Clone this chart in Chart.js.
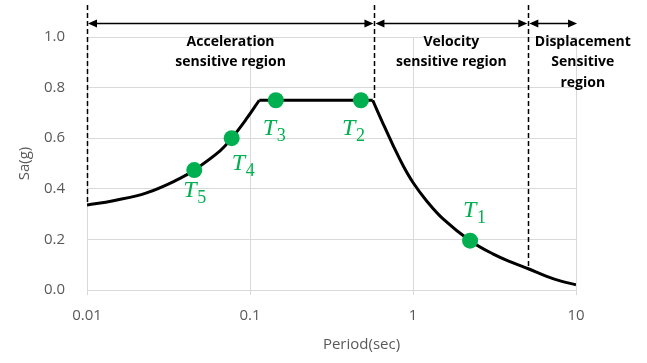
<!DOCTYPE html>
<html><head><meta charset="utf-8">
<script src="https://cdn.jsdelivr.net/npm/chart.js@4"></script>
<style>html,body{margin:0;padding:0;background:#fff}#wrap{width:647px;height:363px;position:relative}</style>
</head><body><div id="wrap"><canvas id="c"></canvas></div>
<script>
// Design response spectrum: period (sec) against spectral acceleration Sa (g)
const risePeriod = [0.01, 0.0145, 0.0232, 0.0372, 0.0455, 0.0655, 0.0772, 0.095, 0.114];
const riseSa     = [0.336, 0.353, 0.384, 0.441, 0.474, 0.550, 0.600, 0.676, 0.75];
const plateauPeriod = [0.114, 0.566];
const plateauSa     = [0.75, 0.75];
const fallPeriod = [0.566, 0.658, 0.757, 0.872, 1.0, 1.213, 1.535, 2.24, 3.11, 4.12, 5.1, 6.61, 8.0, 10];
const fallSa     = [0.75, 0.655, 0.570, 0.490, 0.425, 0.352, 0.280, 0.195, 0.142, 0.107, 0.084, 0.054, 0.036, 0.021];

// Modal periods T1..T5 marked on the spectrum
const markerIndex  = ['1', '2', '3', '4', '5'];
const markerPeriod = [2.24, 0.479, 0.144, 0.0772, 0.0455];
const markerSa     = [0.195, 0.75, 0.75, 0.600, 0.474];

// Spectral regions: divider periods and where each divider meets the spectrum
const regionBounds  = [0.01, 0.58, 5.1, 10.3];
const dividerSa     = [0.336, 0.75, 0.084];
const regionNames   = [['Acceleration', 'sensitive region'], ['Velocity', 'sensitive region'], ['Displacement', 'Sensitive', 'region']];
const regionLabelAt = [0.076, 1.72, 11.0];

// Axis ticks
const periodTicks = [0.01, 0.1, 1, 10];
const saTicks     = [0, 0.2, 0.4, 0.6, 0.8, 1.0];

const toXY = (xs, ys) => xs.map((v, i) => ({x: v, y: ys[i]}));

const GREEN = '#00B050';
const GREY = '#595959';
const GRID = '#d9d9d9';
const annot = {
  arrowSa: 1.057,      // height of the region arrows
  dividerTopSa: 1.126, // top of the dashed dividers
  // label offsets from the marker centre (px): T left edge, T baseline
  labelOffset: [[-7, -24], [-19, 35], [-13, 35], [0, 32], [-11, 27]]
};

const regionPlugin = {
  id: 'regions',
  beforeDatasetsDraw(chart) {
    const {ctx, scales: {x, y}} = chart;
    ctx.save();
    ctx.strokeStyle = '#000';
    ctx.lineWidth = 1.5;
    ctx.setLineDash([5, 3]);
    const top = y.getPixelForValue(annot.dividerTopSa);
    for (let i = 0; i < 3; i++) {
      const px = Math.round(x.getPixelForValue(regionBounds[i])) + 0.5;
      ctx.beginPath();
      ctx.moveTo(px, top);
      ctx.lineTo(px, y.getPixelForValue(dividerSa[i]));
      ctx.stroke();
    }
    ctx.restore();
  },
  afterDatasetsDraw(chart) {
    const {ctx, scales: {x, y}} = chart;
    ctx.save();
    // double-headed arrows spanning each region
    const ay = Math.round(y.getPixelForValue(annot.arrowSa)) + 0.5;
    const head = (tx, dir) => {
      ctx.beginPath();
      ctx.moveTo(tx, ay);
      ctx.lineTo(tx + dir * 9, ay - 4);
      ctx.lineTo(tx + dir * 9, ay + 4);
      ctx.closePath();
      ctx.fill();
    };
    ctx.fillStyle = '#000';
    ctx.strokeStyle = '#000';
    ctx.lineWidth = 1.3;
    for (let i = 0; i < 3; i++) {
      const a = x.getPixelForValue(regionBounds[i]) + 1;
      const b = x.getPixelForValue(regionBounds[i + 1]) - 1;
      ctx.beginPath();
      ctx.moveTo(a + 4, ay);
      ctx.lineTo(b - 4, ay);
      ctx.stroke();
      head(a, 1);
      head(b, -1);
    }
    // region names
    ctx.font = 'bold 14px "Open Sans"';
    ctx.textAlign = 'center';
    ctx.textBaseline = 'middle';
    ctx.fillStyle = '#000';
    regionNames.forEach((lines, i) => {
      const cx = x.getPixelForValue(regionLabelAt[i]);
      lines.forEach((t, k) => ctx.fillText(t, cx, 42 + k * 20.5));
    });
    // modal period labels
    ctx.fillStyle = GREEN;
    ctx.textAlign = 'left';
    ctx.textBaseline = 'alphabetic';
    markerPeriod.forEach((p, i) => {
      const px = x.getPixelForValue(p) + annot.labelOffset[i][0];
      const py = y.getPixelForValue(markerSa[i]) + annot.labelOffset[i][1];
      ctx.font = 'italic 24px "Liberation Serif"';
      ctx.fillText('T', px, py);
      ctx.font = '18px "Liberation Serif"';
      ctx.fillText(markerIndex[i], px + 14, py + 6);
    });
    ctx.restore();
  },
  afterDraw(chart) {
    const {ctx, chartArea} = chart;
    ctx.save();
    ctx.font = '15px "Open Sans"';
    ctx.fillStyle = GREY;
    ctx.textAlign = 'center';
    ctx.textBaseline = 'middle';
    ctx.fillText('Period(sec)', (chartArea.left + chartArea.right) / 2 + 30, 345);
    ctx.restore();
  }
};

const lineStyle = {borderColor: '#000', borderWidth: 3, pointRadius: 0, fill: false,
  tension: 0.4, order: 2};

new Chart(document.getElementById('c'), {
  type: 'line',
  data: {
    datasets: [
      Object.assign({label: 'rise', data: toXY(risePeriod, riseSa)}, lineStyle),
      Object.assign({label: 'plateau', data: toXY(plateauPeriod, plateauSa)}, lineStyle, {tension: 0}),
      Object.assign({label: 'fall', data: toXY(fallPeriod, fallSa)}, lineStyle),
      {label: 'modes', data: toXY(markerPeriod, markerSa), showLine: false,
       pointRadius: 8, pointHoverRadius: 8, pointBackgroundColor: GREEN, pointBorderWidth: 0, order: 1}
    ]
  },
  options: {
    responsive: true,
    maintainAspectRatio: false,
    animation: false,
    events: [],
    layout: {padding: {left: 0, right: 71, top: 37, bottom: 0}},
    plugins: {legend: {display: false}, tooltip: {enabled: false}},
    scales: {
      x: {
        type: 'logarithmic', min: 0.01, max: 10,
        afterBuildTicks: s => { s.ticks = periodTicks.map(v => ({value: v})); },
        afterFit: s => { s.height = 73; },
        grid: {color: GRID, lineWidth: 1, tickLength: 5, drawTicks: true},
        border: {display: false},
        ticks: {color: GREY, font: {family: 'Open Sans', size: 15}, padding: 12,
          maxRotation: 0, autoSkip: false, callback: v => String(v)}
      },
      y: {
        min: 0, max: 1.0,
        afterBuildTicks: s => { s.ticks = saTicks.map(v => ({value: v})); },
        afterFit: s => { s.width = 87; },
        grid: {color: GRID, lineWidth: 1, drawTicks: false},
        border: {display: false},
        ticks: {color: GREY, font: {family: 'Open Sans', size: 15}, padding: 22,
          callback: v => Number(v).toFixed(1)},
        title: {display: true, text: 'Sa(g)', color: GREY, font: {family: 'Open Sans', size: 15},
          padding: {top: 16, bottom: 0}}
      }
    }
  },
  plugins: [regionPlugin]
});
</script></body></html>
